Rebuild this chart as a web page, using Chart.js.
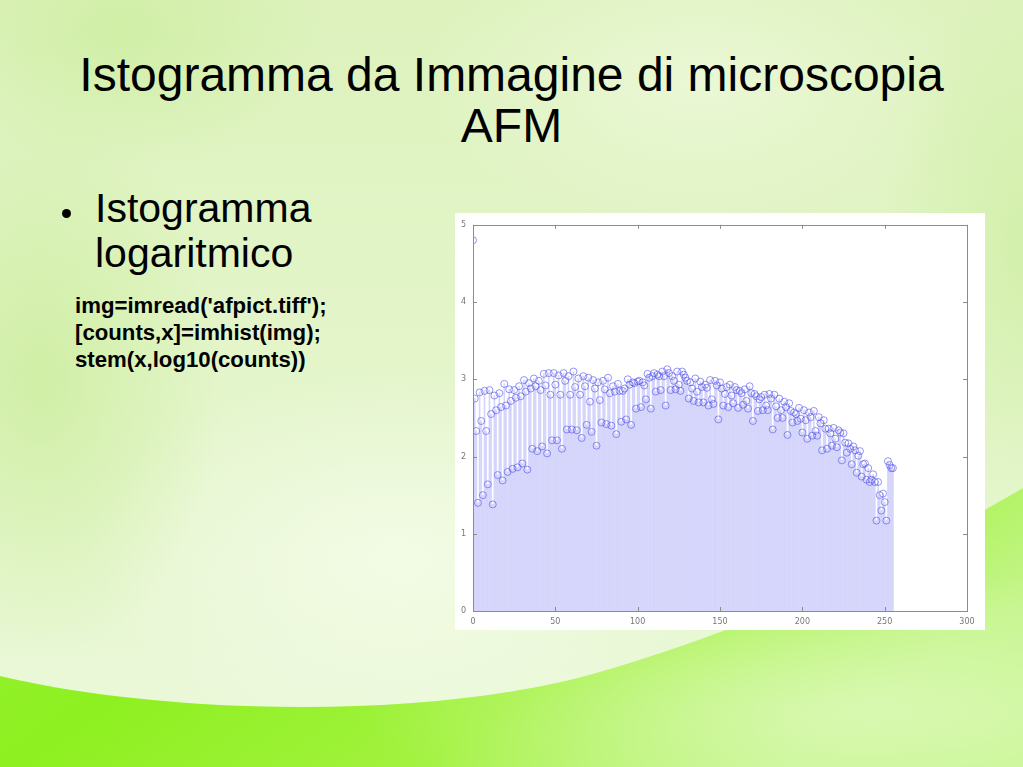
<!DOCTYPE html>
<html>
<head>
<meta charset="utf-8">
<script src="https://cdn.jsdelivr.net/npm/chart.js@4.4.1/dist/chart.umd.min.js"></script>
<style>
  html, body { margin: 0; padding: 0; }
  body {
    width: 1023px; height: 767px; overflow: hidden; position: relative;
    font-family: "Liberation Sans", Arial, sans-serif;
    background:
      radial-gradient(ellipse 260px 400px at 40px 380px, rgba(200,236,150,0.7), rgba(200,236,150,0) 70%),
      radial-gradient(ellipse 300px 200px at 120px 30px, rgba(205,238,160,0.8), rgba(205,238,160,0) 70%),
      radial-gradient(ellipse 200px 400px at 1023px 250px, rgba(205,238,160,0.7), rgba(205,238,160,0) 70%),
      radial-gradient(ellipse 420px 260px at 400px 560px, rgba(244,252,232,0.9), rgba(244,252,232,0) 75%),
      radial-gradient(ellipse 400px 220px at 700px 80px, rgba(238,249,218,0.8), rgba(238,249,218,0) 70%),
      linear-gradient(180deg, #ddf2bd 0%, #e3f5c9 45%, #e8f7d3 80%, #ecf9dc 100%);
  }
  #bg { position: absolute; left: 0; top: 0; }
  .title {
    position: absolute; left: 0; width: 1023px; top: 49px; text-align: center;
    font-size: 48px; line-height: 51px; color: #000;
  }
  .bullet {
    position: absolute; left: 95px; top: 186px; font-size: 41px; line-height: 45px; color: #000;
  }
  .dot {
    position: absolute; left: 62px; top: 209px; width: 9px; height: 9px; border-radius: 50%; background: #000;
  }
  .code {
    position: absolute; left: 75px; top: 292px; font-size: 22.2px; line-height: 27px; font-weight: bold; color: #000;
  }
  #box {
    position: absolute; left: 455px; top: 213px; width: 530px; height: 417px; background: #fff;
  }
</style>
</head>
<body>
<svg id="bg" width="1023" height="767">
  <defs>
    <linearGradient id="swoosh" x1="0" y1="0" x2="1" y2="0.4">
      <stop offset="0" stop-color="#98f03a"/>
      <stop offset="0.35" stop-color="#8ef020"/>
      <stop offset="0.7" stop-color="#a2f23e"/>
      <stop offset="1" stop-color="#c4f58a"/>
    </linearGradient>
    <radialGradient id="pale" cx="0.85" cy="0.8" r="0.5">
      <stop offset="0" stop-color="#dcf9b8" stop-opacity="0.85"/>
      <stop offset="1" stop-color="#dcf9b8" stop-opacity="0"/>
    </radialGradient>
  </defs>
  <path d="M0,676 C150,712 420,724 600,672 C760,625 900,560 1023,488 L1023,767 L0,767 Z" fill="url(#swoosh)"/>
  <path d="M0,676 C150,712 420,724 600,672 C760,625 900,560 1023,488 L1023,767 L0,767 Z" fill="url(#pale)"/>
</svg>
<div class="title">Istogramma da Immagine di microscopia<br>AFM</div>
<div class="dot"></div>
<div class="bullet">Istogramma<br>logaritmico</div>
<div class="code">img=imread('afpict.tiff');<br>[counts,x]=imhist(img);<br>stem(x,log10(counts))</div>
<div id="box"><canvas id="myChart" width="530" height="417"></canvas></div>

<script>
// log10 of histogram counts, grey levels 0..255
const logCounts = [
  4.80, 2.75, 2.33, 1.40, 2.83, 2.46, 1.50, 2.85, 2.33, 1.64,
  2.86, 2.55, 1.38, 2.79, 2.60, 1.76, 2.82, 2.64, 1.69, 2.94,
  2.66, 1.80, 2.87, 2.72, 1.84, 2.86, 2.76, 1.86, 2.91, 2.78,
  1.91, 2.99, 2.84, 1.83, 2.95, 2.88, 2.10, 3.01, 2.91, 2.07,
  2.98, 2.86, 2.13, 3.07, 2.92, 2.04, 3.08, 2.80, 2.21, 3.08,
  2.93, 2.21, 3.05, 2.80, 2.10, 3.08, 2.98, 2.35, 3.04, 2.80,
  2.35, 3.10, 2.90, 2.34, 3.01, 2.80, 2.24, 3.04, 2.91, 2.41,
  3.02, 2.71, 2.32, 2.99, 2.88, 2.14, 2.96, 2.73, 2.44, 2.98,
  2.87, 2.42, 3.02, 2.82, 2.40, 2.91, 2.84, 2.29, 2.94, 2.85,
  2.45, 2.85, 2.88, 2.48, 3.00, 2.93, 2.41, 2.96, 2.95, 2.62,
  2.97, 2.98, 2.64, 2.96, 2.92, 2.74, 3.07, 3.02, 2.62, 3.04,
  3.08, 2.84, 3.06, 3.04, 2.86, 3.10, 3.04, 2.66, 3.13, 3.08,
  2.86, 3.04, 2.98, 2.87, 3.10, 2.93, 2.85, 3.10, 3.06, 3.02,
  2.98, 2.75, 2.96, 2.88, 2.72, 3.01, 2.84, 2.70, 2.97, 2.90,
  2.70, 2.93, 2.89, 2.66, 2.99, 2.74, 2.68, 2.98, 2.92, 2.48,
  2.96, 2.88, 2.66, 2.81, 2.90, 2.64, 2.93, 2.79, 2.69, 2.90,
  2.86, 2.63, 2.85, 2.82, 2.67, 2.87, 2.72, 2.62, 2.91, 2.82,
  2.46, 2.81, 2.78, 2.59, 2.74, 2.77, 2.60, 2.80, 2.66, 2.60,
  2.81, 2.75, 2.35, 2.80, 2.65, 2.50, 2.75, 2.60, 2.50, 2.71,
  2.64, 2.28, 2.69, 2.59, 2.44, 2.57, 2.55, 2.46, 2.63, 2.49,
  2.31, 2.60, 2.47, 2.23, 2.57, 2.51, 2.27, 2.59, 2.33, 2.27,
  2.51, 2.43, 2.08, 2.47, 2.36, 2.10, 2.36, 2.30, 2.14, 2.37,
  2.23, 2.12, 2.34, 2.31, 1.95, 2.30, 2.18, 2.05, 2.17, 2.10,
  1.90, 2.13, 2.08, 1.79, 2.01, 2.07, 1.74, 1.90, 1.91, 1.70,
  1.85, 1.67, 1.70, 1.77, 1.67, 1.17, 1.67, 1.50, 1.30, 1.52,
  1.41, 1.17, 1.94, 1.89, 1.85, 1.85
];
const greyLevels = logCounts.map((v, i) => i);
const xTicks = [0, 50, 100, 150, 200, 250, 300];
const yTicks = [0, 1, 2, 3, 4, 5];

const points = greyLevels.map((x, i) => ({ x: x, y: logCounts[i] }));

// box around plot area with inward tick marks (MATLAB style)
const boxPlugin = {
  id: 'boxPlugin',
  afterDraw(chart) {
    const ctx = chart.ctx;
    const a = chart.chartArea;
    const xs = chart.scales.x, ys = chart.scales.y;
    ctx.save();
    ctx.strokeStyle = '#8c8c8c';
    ctx.lineWidth = 1;
    ctx.strokeRect(Math.round(a.left) + 0.5, Math.round(a.top) + 0.5,
                   Math.round(a.right - a.left), Math.round(a.bottom - a.top));
    ctx.beginPath();
    xTicks.forEach(t => {
      const px = Math.round(xs.getPixelForValue(t)) + 0.5;
      ctx.moveTo(px, a.bottom); ctx.lineTo(px, a.bottom - 4);
      ctx.moveTo(px, a.top); ctx.lineTo(px, a.top + 4);
    });
    yTicks.forEach(t => {
      const py = Math.round(ys.getPixelForValue(t)) + 0.5;
      ctx.moveTo(a.left, py); ctx.lineTo(a.left + 4, py);
      ctx.moveTo(a.right, py); ctx.lineTo(a.right - 4, py);
    });
    ctx.stroke();
    ctx.restore();
  }
};

const config = {
  type: 'bar',
  data: {
    datasets: [
      {
        type: 'scatter',
        label: 'markers',
        data: points,
        showLine: false,
        pointStyle: 'circle',
        pointRadius: 3.5,
        borderWidth: 1,
        borderColor: 'rgba(80,80,235,0.6)',
        backgroundColor: 'rgba(0,0,0,0)',
        order: 0
      },
      {
        type: 'bar',
        label: 'stems',
        data: points,
        barThickness: 1,
        backgroundColor: 'rgba(100,100,240,0.27)',
        borderWidth: 0,
        order: 1
      }
    ]
  },
  options: {
    responsive: false,
    animation: false,
    layout: { padding: { left: 0, right: 18, top: 11, bottom: 0 } },
    plugins: { legend: { display: false }, tooltip: { enabled: false } },
    scales: {
      x: {
        type: 'linear', min: 0, max: 300, offset: false,
        afterBuildTicks: s => { s.ticks = xTicks.map(v => ({ value: v })); },
        afterFit: s => { s.height = 19; },
        grid: { display: false, drawTicks: false },
        border: { display: false },
        ticks: { color: '#777', font: { family: 'DejaVu Sans', size: 8 }, padding: 6, maxRotation: 0 }
      },
      y: {
        type: 'linear', min: 0, max: 5,
        afterBuildTicks: s => { s.ticks = yTicks.map(v => ({ value: v })); },
        afterFit: s => { s.width = 18; },
        grid: { display: false, drawTicks: false },
        border: { display: false },
        ticks: { color: '#777', font: { family: 'DejaVu Sans', size: 8 }, padding: 7 }
      }
    }
  },
  plugins: [boxPlugin]
};

const myChart = new Chart(document.getElementById('myChart'), config);
</script>
</body>
</html>
